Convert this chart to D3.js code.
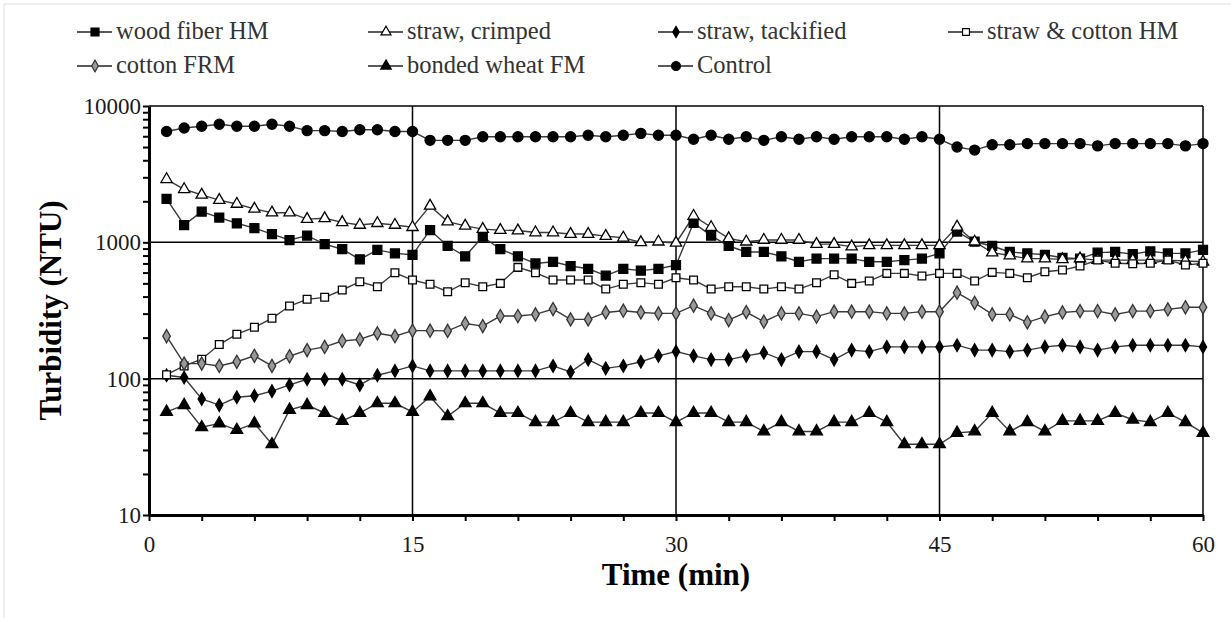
<!DOCTYPE html>
<html>
<head>
<meta charset="utf-8">
<script src="https://cdn.jsdelivr.net/npm/d3@7"></script>
<style>
  body { margin: 0; background: #fff; }
  svg { display: block; }
</style>
</head>
<body>
<svg id="chart" width="1231" height="618"></svg>
<script>
const SERIF = "'Liberation Serif'";
const minutes = d3.range(1, 61);

const woodFiberHM = [2080, 1340, 1680, 1520, 1380, 1270, 1150, 1040, 1120, 970, 890, 750, 880, 830, 810, 1230, 940, 790, 1100, 890,
  790, 700, 720, 670, 640, 570, 640, 620, 640, 680, 1390, 1120, 940, 850, 850, 790, 720, 760, 760, 760,
  720, 720, 740, 760, 830, 1200, 1010, 940, 850, 830, 810, 770, 760, 840, 850, 820, 860, 830, 830, 880];
const strawCrimped = [2900, 2450, 2230, 2040, 1910, 1760, 1650, 1650, 1480, 1500, 1400, 1340, 1380, 1340, 1290, 1850, 1420, 1320, 1250, 1230,
  1220, 1180, 1180, 1150, 1150, 1110, 1080, 1000, 1010, 990, 1560, 1290, 1070, 1010, 1040, 1040, 1040, 970, 970, 930,
  950, 950, 950, 950, 950, 1300, 1010, 840, 800, 760, 760, 750, 760, 740, 740, 740, 740, 740, 730, 720];
const strawTackified = [106, 102, 71, 64, 73, 75, 81, 90, 99, 99, 99, 90, 106, 114, 124, 114, 114, 114, 114, 114,
  114, 114, 124, 112, 138, 119, 124, 133, 147, 158, 147, 138, 138, 147, 155, 138, 158, 158, 138, 162,
  158, 171, 171, 171, 171, 176, 162, 162, 158, 162, 171, 176, 171, 162, 171, 176, 176, 176, 176, 171];
const strawCottonHM = [107, 124, 139, 178, 212, 238, 277, 341, 382, 395, 447, 514, 472, 598, 529, 492, 434, 506, 472, 500,
  655, 598, 529, 529, 529, 454, 492, 506, 492, 550, 529, 454, 472, 472, 454, 472, 454, 506, 579, 500,
  520, 592, 592, 566, 592, 592, 520, 602, 592, 550, 609, 626, 670, 742, 702, 697, 702, 742, 681, 702];
const cottonFRM = [205, 129, 129, 124, 133, 147, 124, 146, 162, 171, 189, 194, 215, 205, 225, 225, 224, 254, 243, 288,
  288, 296, 324, 272, 272, 306, 315, 306, 301, 301, 343, 301, 269, 308, 262, 301, 301, 285, 310, 310,
  310, 301, 301, 310, 310, 427, 360, 296, 296, 259, 285, 306, 313, 313, 296, 313, 313, 322, 334, 334];
const bondedWheatFM = [57, 64, 44, 47, 42, 47, 33, 59, 64, 56, 49, 56, 66, 66, 57, 74, 53, 66, 66, 56,
  56, 48, 48, 56, 48, 48, 48, 56, 56, 48, 56, 56, 48, 48, 41, 48, 41, 41, 48, 48,
  56, 48, 33, 33, 33, 40, 41, 56, 41, 48, 41, 49, 49, 49, 56, 50, 48, 56, 48, 40];
const control = [6500, 6900, 7100, 7350, 7100, 7100, 7350, 7100, 6600, 6600, 6500, 6700, 6700, 6500, 6500, 5600, 5600, 5600, 5950, 5950,
  5950, 5950, 5950, 5950, 6100, 5950, 6100, 6300, 6100, 6100, 5700, 6100, 5700, 5950, 5600, 5950, 5700, 5950, 5700, 5950,
  5950, 5950, 5700, 5950, 5700, 5000, 4750, 5200, 5200, 5300, 5300, 5300, 5300, 5100, 5300, 5300, 5300, 5300, 5100, 5300];

const seriesNames = ["wood fiber HM", "straw, crimped", "straw, tackified", "straw & cotton HM", "cotton FRM", "bonded wheat FM", "Control"];
const seriesValues = [woodFiberHM, strawCrimped, strawTackified, strawCottonHM, cottonFRM, bondedWheatFM, control];
const xTickLabels = [0, 15, 30, 45, 60];
const yTickLabels = [10, 100, 1000, 10000];

// marker style per series
const markers = [
  { type: d3.symbolSquare, size: 80, fill: "#000", stroke: "#000" },
  { type: d3.symbolTriangle, size: 55, fill: "#fff", stroke: "#000" },
  { type: d3.symbolDiamond, size: 45, fill: "#000", stroke: "#000" },
  { type: d3.symbolSquare, size: 60, fill: "#fff", stroke: "#000" },
  { type: d3.symbolDiamond, size: 50, fill: "#999", stroke: "#333" },
  { type: d3.symbolTriangle, size: 60, fill: "#000", stroke: "#000" },
  { type: d3.symbolCircle, size: 80, fill: "#000", stroke: "#000" }
];

const svg = d3.select("#chart");
const plotLeft = 149, plotRight = 1203, plotTop = 106, plotBottom = 515;

// faint figure border
svg.append("line").attr("x1", 4).attr("x2", 1231).attr("y1", 4).attr("y2", 4).attr("stroke", "#ddd");
svg.append("line").attr("x1", 4).attr("x2", 4).attr("y1", 4).attr("y2", 618).attr("stroke", "#ddd");

const x = d3.scaleLinear().domain([0, 60]).range([plotLeft, plotRight]);
const y = d3.scaleLog().domain([10, 10000]).range([plotBottom, plotTop]);

// grid
const grid = svg.append("g");
grid.selectAll("line.h").data(yTickLabels.slice(1)).join("line")
  .attr("x1", plotLeft).attr("x2", plotRight).attr("y1", d => y(d)).attr("y2", d => y(d))
  .attr("stroke", "#000").attr("stroke-width", 1.5);
grid.selectAll("line.v").data(xTickLabels.slice(1)).join("line")
  .attr("x1", d => x(d)).attr("x2", d => x(d)).attr("y1", plotTop).attr("y2", plotBottom)
  .attr("stroke", "#000").attr("stroke-width", 1.5);

// axes
const yTicks = [];
yTickLabels.forEach(p => { for (let k = 1; k < 10; k++) if (p * k <= 10000) yTicks.push(p * k); });
const yAxis = svg.append("g").attr("transform", `translate(${plotLeft},0)`)
  .call(d3.axisLeft(y).tickValues(yTicks).tickSize(6).tickSizeOuter(0)
    .tickFormat(d => yTickLabels.includes(d) ? d : ""));
yAxis.select(".domain").attr("stroke-width", 3);
yAxis.selectAll(".tick line").attr("stroke-width", 2);
yAxis.selectAll(".tick text").attr("x", -8);

const xAxis = svg.append("g").attr("transform", `translate(0,${plotBottom})`)
  .call(d3.axisBottom(x).tickValues(d3.range(0, 61, 3)).tickSize(6).tickSizeOuter(0)
    .tickFormat(d => xTickLabels.includes(d) ? d : ""));
xAxis.select(".domain").attr("stroke-width", 3);
xAxis.selectAll(".tick line").attr("stroke-width", 2);
xAxis.selectAll(".tick text").attr("y", 21);

[yAxis, xAxis].forEach(ax => ax.selectAll(".tick text")
  .style("font-family", SERIF).style("font-size", "23px").attr("fill", "#1a1a1a"));

// series
const line = d3.line().x((d, i) => x(minutes[i])).y(d => y(d));
const plot = svg.append("g");
seriesValues.forEach(vals => {
  plot.append("path").datum(vals).attr("d", line)
    .attr("fill", "none").attr("stroke", "#3a3a3a").attr("stroke-width", 1.4);
});
seriesValues.forEach((vals, s) => {
  const m = markers[s];
  plot.append("g").selectAll("path").data(vals).join("path")
    .attr("transform", (d, i) => `translate(${x(minutes[i])},${y(d)})`)
    .attr("d", d3.symbol().type(m.type).size(m.size))
    .attr("fill", m.fill).attr("stroke", m.stroke).attr("stroke-width", 1.3);
});

// axis titles
svg.append("text").attr("x", (plotLeft + plotRight) / 2).attr("y", 585).attr("text-anchor", "middle")
  .style("font-family", SERIF).style("font-size", "31px").style("font-weight", "bold").text("Time (min)");
svg.append("text").attr("transform", `translate(61,${(plotTop + plotBottom) / 2}) rotate(-90)`)
  .attr("text-anchor", "middle").style("font-family", SERIF).style("font-size", "31px").style("font-weight", "bold")
  .text("Turbidity (NTU)");

// legend
const legendPos = [[77, 32], [368, 32], [658, 32], [948, 32], [77, 66], [368, 66], [658, 66]];
const legend = svg.append("g");
seriesNames.forEach((name, s) => {
  const [lx, ly] = legendPos[s];
  const g = legend.append("g").attr("transform", `translate(${lx},${ly})`);
  g.append("line").attr("x1", 0).attr("x2", 35).attr("stroke", "#222").attr("stroke-width", 1.6);
  const m = markers[s];
  g.append("path").attr("transform", "translate(18,0)")
    .attr("d", d3.symbol().type(m.type).size(m.size * 0.8))
    .attr("fill", m.fill).attr("stroke", m.stroke).attr("stroke-width", 1.2);
  g.append("text").attr("x", 39).attr("y", 7).style("font-family", SERIF).style("font-size", "24.5px")
    .attr("fill", "#333").text(name);
});
</script>
</body>
</html>
